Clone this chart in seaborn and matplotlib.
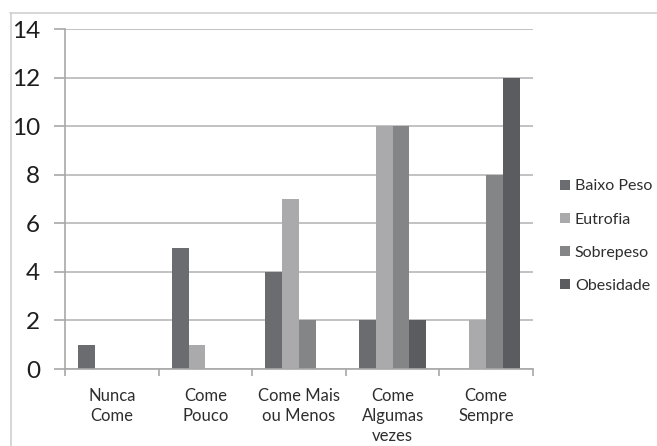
import matplotlib
matplotlib.use("Agg")
import matplotlib.pyplot as plt
import seaborn as sns
import pandas as pd
from matplotlib.lines import Line2D
from matplotlib.patches import Patch

categories = ["Nunca\nCome", "Come\nPouco", "Come Mais\nou Menos", "Come\nAlgumas\nvezes", "Come\nSempre"]
series = ["Baixo Peso", "Eutrofia", "Sobrepeso", "Obesidade"]
baixo_peso = [1, 5, 4, 2, 0]
eutrofia = [0, 1, 7, 10, 2]
sobrepeso = [0, 0, 2, 10, 8]
obesidade = [0, 0, 0, 2, 12]
y_ticks = [0, 2, 4, 6, 8, 10, 12, 14]

colors = ["#6b6c6f", "#aaaaac", "#848587", "#5b5c5f"]

rows = []
for name, vals in zip(series, [baixo_peso, eutrofia, sobrepeso, obesidade]):
    for cat, v in zip(categories, vals):
        rows.append({"categoria": cat, "grupo": name, "valor": v})
df = pd.DataFrame(rows)

sns.set_theme(style="white")
plt.rcParams["font.family"] = ["Lato", "DejaVu Sans"]

fig = plt.figure(figsize=(6.57, 4.46), dpi=100)
ax = fig.add_axes([65 / 657, 1 - 369 / 446, (533 - 65) / 657, (369 - 29) / 446])

sns.barplot(data=df, x="categoria", y="valor", hue="grupo", order=categories,
            hue_order=series, palette=colors, width=0.716, gap=0,
            saturation=1, edgecolor="none", legend=False, ax=ax)

ax.set_ylim(0, 14)
ax.set_xlim(-0.5, len(categories) - 0.5)
ax.set_yticks(y_ticks)
ax.set_yticklabels([str(t) for t in y_ticks], fontsize=17.5, color="#1e1e1e")
ax.yaxis.grid(True, color="#b8b8b8", linewidth=1.2)
ax.set_axisbelow(True)
ax.set_xlabel("")
ax.set_ylabel("")

for s in ["top", "right"]:
    ax.spines[s].set_visible(False)
for s in ["left", "bottom"]:
    ax.spines[s].set_visible(True)
    ax.spines[s].set_color("#a8a8a8")
    ax.spines[s].set_linewidth(1.2)

ax.tick_params(axis="y", which="major", left=True, length=8, width=1.2,
               color="#a8a8a8", pad=10)
ax.tick_params(axis="x", which="major", bottom=False, labelsize=12,
               labelcolor="#2e2e2e", pad=8)
ax.set_xticks([i + 0.5 for i in range(-1, len(categories))], minor=True)
ax.tick_params(axis="x", which="minor", bottom=True, length=5, width=1.2,
               color="#a8a8a8")
for lbl in ax.get_xticklabels():
    lbl.set_linespacing(1.3)
    lbl.set_verticalalignment("top")

# outer frame of the chart area
fig.add_artist(Line2D([10 / 657, 1], [1 - 13 / 446, 1 - 13 / 446],
                      transform=fig.transFigure, color="#d0d0d0", lw=1.2))
fig.add_artist(Line2D([11 / 657, 11 / 657], [0, 1 - 13 / 446],
                      transform=fig.transFigure, color="#d0d0d0", lw=1.2))

handles = [Patch(facecolor=c, edgecolor="none") for c in colors]
fig.legend(handles, series, loc="upper left",
           bbox_to_anchor=(554 / 657, 1 - 173 / 446), frameon=False,
           fontsize=11.5, handlelength=0.6, handleheight=0.6,
           handletextpad=0.3, labelspacing=1.2, labelcolor="#2e2e2e",
           borderaxespad=0)

fig.savefig("out.png", dpi=100)
